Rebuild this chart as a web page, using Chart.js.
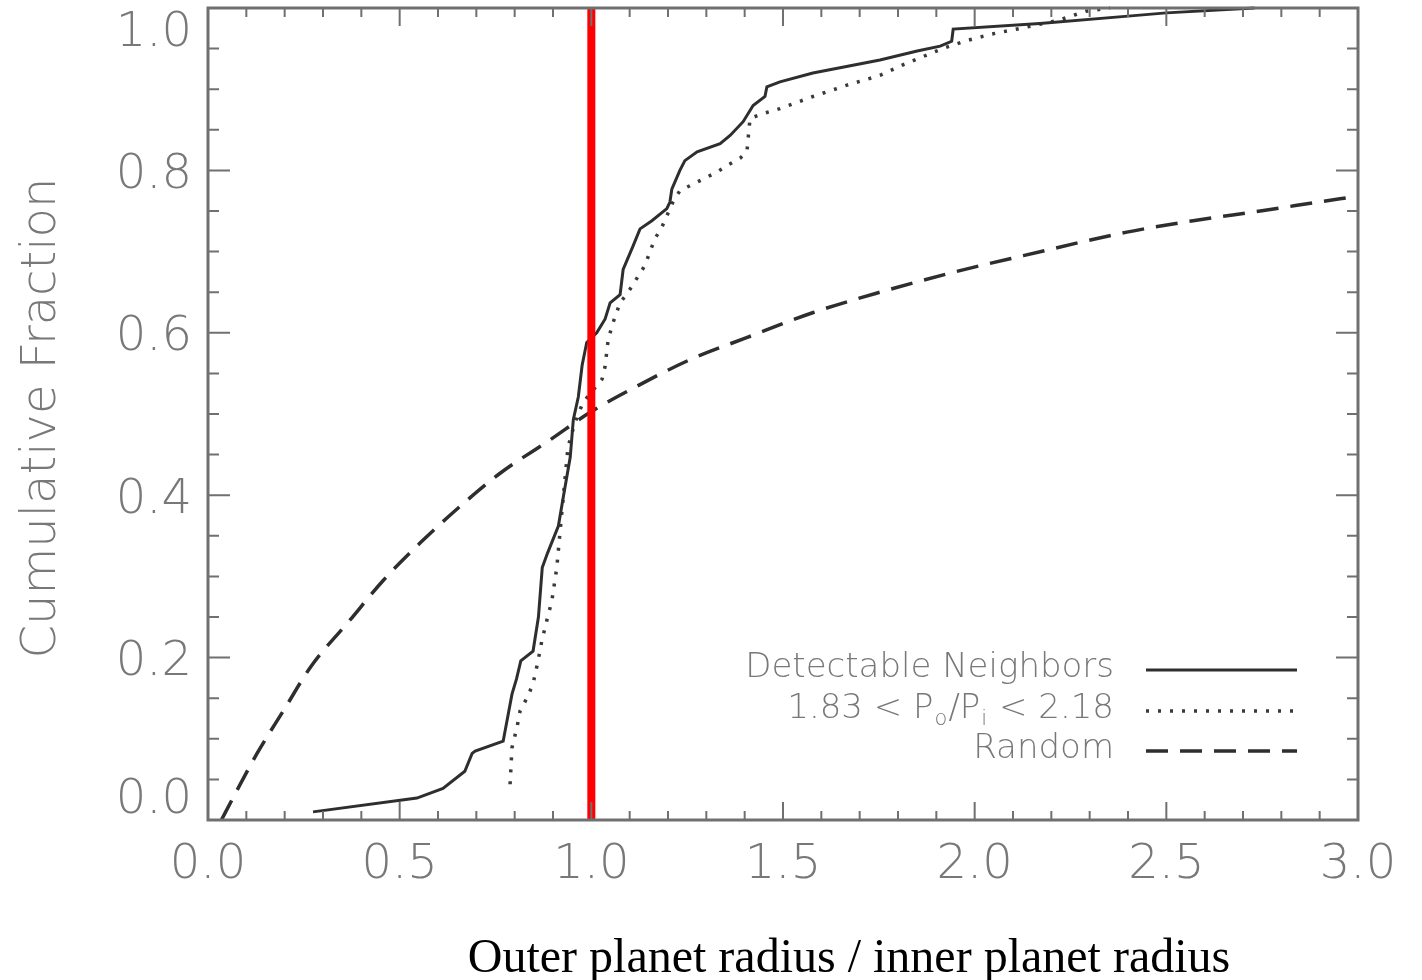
<!DOCTYPE html>
<html>
<head>
<meta charset="utf-8">
<script src="https://cdn.jsdelivr.net/npm/chart.js@4.4.0/dist/chart.umd.min.js"></script>
<style>
  html, body { margin: 0; padding: 0; background: #fff; }
  #wrap { width: 1422px; height: 980px; position: relative; }
</style>
</head>
<body>
<div id="wrap"><canvas id="cdf"></canvas></div>
<script>
// Cumulative fraction of outer/inner planet radius ratio, three samples

// Detectable neighbors (solid)
const neighborsX = [0.274, 0.545, 0.613, 0.670, 0.689, 0.697, 0.770, 0.793, 0.805, 0.816,
  0.848, 0.862, 0.872, 0.886, 0.914, 0.927, 0.945, 0.953, 0.966, 0.976, 0.988, 1.014,
  1.036, 1.049, 1.075, 1.083, 1.109, 1.127, 1.158, 1.197, 1.205, 1.210, 1.231, 1.244,
  1.276, 1.336, 1.362, 1.396, 1.422, 1.453, 1.458, 1.492, 1.578, 1.753, 1.850, 1.910,
  1.940, 1.944, 2.170, 2.400, 2.500, 2.730];
const neighborsY = [0.010, 0.027, 0.039, 0.060, 0.082, 0.085, 0.097, 0.155, 0.174, 0.196,
  0.208, 0.250, 0.311, 0.329, 0.362, 0.398, 0.447, 0.493, 0.521, 0.560, 0.588, 0.600,
  0.617, 0.637, 0.647, 0.678, 0.707, 0.728, 0.738, 0.753, 0.761, 0.777, 0.800, 0.812,
  0.823, 0.833, 0.843, 0.860, 0.880, 0.891, 0.903, 0.909, 0.920, 0.936, 0.947, 0.953,
  0.959, 0.974, 0.981, 0.990, 0.994, 1.000];

// Pairs near the 2:1 period ratio (dotted)
const resonantX = [0.788, 0.793, 0.806, 0.814, 0.835, 0.848, 0.861, 0.871, 0.884, 0.897,
  0.910, 0.918, 0.939, 0.957, 0.978, 1.028, 1.036, 1.044, 1.057, 1.075, 1.096, 1.140,
  1.153, 1.166, 1.184, 1.197, 1.213, 1.231, 1.265, 1.328, 1.354, 1.388, 1.406, 1.409,
  1.414, 1.448, 1.492, 1.578, 1.667, 1.753, 1.813, 1.916, 1.980, 2.045, 2.120, 2.220,
  2.290, 2.353];
const resonantY = [0.044, 0.089, 0.114, 0.134, 0.153, 0.168, 0.196, 0.221, 0.246, 0.270,
  0.311, 0.353, 0.459, 0.489, 0.514, 0.543, 0.559, 0.592, 0.613, 0.637, 0.650, 0.683,
  0.700, 0.716, 0.730, 0.744, 0.761, 0.775, 0.783, 0.798, 0.806, 0.815, 0.823, 0.839,
  0.864, 0.870, 0.876, 0.891, 0.905, 0.917, 0.930, 0.950, 0.960, 0.968, 0.975, 0.985,
  0.996, 1.000];

// Random pairing (dashed)
const randomX = [0.035, 0.065, 0.128, 0.196, 0.270, 0.370, 0.457, 0.553, 0.657, 0.762,
  0.892, 1.000, 1.110, 1.258, 1.405, 1.579, 1.753, 1.940, 2.127, 2.397, 2.570, 2.745,
  2.953, 3.000];
const randomY = [0.000, 0.027, 0.082, 0.134, 0.190, 0.246, 0.295, 0.341, 0.386, 0.427,
  0.468, 0.503, 0.532, 0.567, 0.594, 0.625, 0.650, 0.674, 0.695, 0.724, 0.738, 0.750,
  0.765, 0.768];

// Vertical marker at equal radii
const markerX = [1.0, 1.0];
const markerY = [0.0, 1.0];

const xTickLabels = ['0.0', '0.5', '1.0', '1.5', '2.0', '2.5', '3.0'];
const yTickLabels = ['0.0', '0.2', '0.4', '0.6', '0.8', '1.0'];
const legendLabels = ['Detectable Neighbors', '1.83 < P_o/P_i < 2.18', 'Random'];

const toPoints = (xs, ys) => xs.map((x, i) => ({ x: x, y: ys[i] }));

const AXIS_GREY = '#707070';
const TEXT_GREY = '#787878';
const FONT_FACE = '"DejaVu Sans", sans-serif';

// draw a label where "_c" puts c as a subscript
function drawSubText(ctx, text, xRight, y, size) {
  const parts = [];
  let buf = '';
  for (let i = 0; i < text.length; i++) {
    if (text[i] === '_' && i + 1 < text.length) {
      if (buf) parts.push({ t: buf, sub: false });
      buf = '';
      parts.push({ t: text[i + 1], sub: true });
      i++;
    } else {
      buf += text[i];
    }
  }
  if (buf) parts.push({ t: buf, sub: false });

  const subSize = Math.round(size * 0.62);
  let total = 0;
  parts.forEach(p => {
    ctx.font = '200 ' + (p.sub ? subSize : size) + 'px ' + FONT_FACE;
    p.w = ctx.measureText(p.t).width + (p.sub ? 2 : 0);
    total += p.w;
  });

  let x = xRight - total;
  ctx.textAlign = 'left';
  ctx.textBaseline = 'middle';
  parts.forEach(p => {
    ctx.font = '200 ' + (p.sub ? subSize : size) + 'px ' + FONT_FACE;
    ctx.fillText(p.t, x + (p.sub ? 1 : 0), p.sub ? y + 11 : y);
    x += p.w;
  });
}

const framePlugin = {
  id: 'idlFrame',
  afterDraw(chart) {
    const ctx = chart.ctx;
    const area = chart.chartArea;
    const xs = chart.scales.x;
    const ys = chart.scales.y;
    ctx.save();

    // box
    ctx.strokeStyle = AXIS_GREY;
    ctx.lineWidth = 3;
    ctx.strokeRect(area.left, area.top, area.right - area.left, area.bottom - area.top);

    // inward ticks on all four sides
    ctx.lineWidth = 2;
    ctx.beginPath();
    for (let i = 0; i <= 30; i++) {
      const px = xs.getPixelForValue(i / 10);
      const len = i % 5 === 0 ? 18 : 9;
      ctx.moveTo(px, area.bottom); ctx.lineTo(px, area.bottom - len);
      ctx.moveTo(px, area.top); ctx.lineTo(px, area.top + len);
    }
    for (let i = 0; i <= 20; i++) {
      const py = ys.getPixelForValue(i / 20);
      const len = i % 4 === 0 ? 22 : 11;
      ctx.moveTo(area.left, py); ctx.lineTo(area.left + len, py);
      ctx.moveTo(area.right, py); ctx.lineTo(area.right - len, py);
    }
    ctx.stroke();

    // tick labels
    ctx.fillStyle = TEXT_GREY;
    ctx.font = '200 48px ' + FONT_FACE;
    ctx.textBaseline = 'middle';
    ctx.textAlign = 'center';
    xTickLabels.forEach(lbl => {
      ctx.fillText(lbl, xs.getPixelForValue(parseFloat(lbl)), area.bottom + 46);
    });
    ctx.textAlign = 'right';
    yTickLabels.forEach(lbl => {
      const py = ys.getPixelForValue(parseFloat(lbl)) + 5;
      const cy = Math.min(Math.max(py, area.top + 26), area.bottom - 19);
      ctx.fillText(lbl, area.left - 16, cy);
    });

    // y title
    ctx.save();
    ctx.translate(43, (area.top + area.bottom) / 2 + 4);
    ctx.rotate(-Math.PI / 2);
    ctx.textAlign = 'center';
    ctx.fillText('Cumulative Fraction', 0, 0);
    ctx.restore();

    // x title
    ctx.fillStyle = '#000';
    ctx.font = '48px "Liberation Serif", "Times New Roman", serif';
    ctx.textAlign = 'center';
    ctx.textBaseline = 'alphabetic';
    ctx.fillText('Outer planet radius / inner planet radius', 849, 972);

    // legend, text right-aligned with line samples to the right
    const textRight = area.right - 244;
    const lineL = area.right - 212;
    const lineR = area.right - 61;
    const rowY = [area.bottom - 152, area.bottom - 111, area.bottom - 71];
    chart.data.datasets.slice(1).forEach((ds, i) => {
      ctx.fillStyle = TEXT_GREY;
      drawSubText(ctx, legendLabels[i], textRight, rowY[i], 34);
      ctx.strokeStyle = ds.borderColor;
      ctx.lineWidth = ds.borderWidth;
      ctx.setLineDash(ds.borderDash || []);
      ctx.beginPath();
      ctx.moveTo(lineL, rowY[i] + 2);
      ctx.lineTo(lineR, rowY[i] + 2);
      ctx.stroke();
    });
    ctx.setLineDash([]);
    ctx.restore();
  }
};

new Chart(document.getElementById('cdf'), {
  type: 'line',
  data: {
    datasets: [
      {
        label: 'R_o = R_i',
        data: toPoints(markerX, markerY),
        borderColor: '#ff0000',
        borderWidth: 8,
        order: 0,
      },
      {
        label: legendLabels[0],
        data: toPoints(neighborsX, neighborsY),
        borderColor: '#2e2e2e',
        borderWidth: 3,
        order: 1,
      },
      {
        label: legendLabels[1],
        data: toPoints(resonantX, resonantY),
        borderColor: '#3a3a3a',
        borderWidth: 3.5,
        borderDash: [3, 9],
        order: 2,
      },
      {
        label: legendLabels[2],
        data: toPoints(randomX, randomY),
        borderColor: '#2e2e2e',
        borderWidth: 3.5,
        borderDash: [22, 12],
        cubicInterpolationMode: 'monotone',
        order: 3,
      },
    ],
  },
  options: {
    responsive: true,
    maintainAspectRatio: false,
    animation: false,
    clip: false,
    layout: { padding: { left: 208, right: 64, top: 8, bottom: 160 } },
    elements: {
      point: { radius: 0 },
      line: { tension: 0, fill: false, borderCapStyle: 'butt' },
    },
    plugins: {
      legend: { display: false },
      tooltip: { enabled: false },
    },
    scales: {
      x: { type: 'linear', min: 0, max: 3, display: false },
      y: { type: 'linear', min: 0, max: 1, display: false },
    },
  },
  plugins: [framePlugin],
});
</script>
</body>
</html>
